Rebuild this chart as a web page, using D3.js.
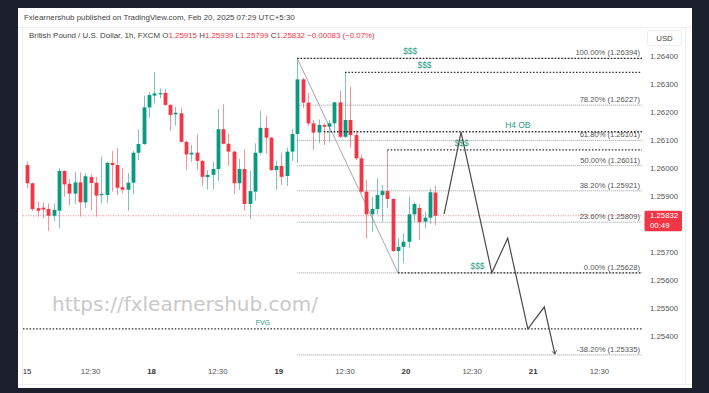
<!DOCTYPE html>
<meta charset="utf-8">
<style>
body { margin: 0; background: #1c202d; }
svg { display: block; font-family: "Liberation Sans", Arial, sans-serif; }
</style>
<body>
<script src="https://d3js.org/d3.v7.min.js"></script>
<script>

var width = 709,
    height = 393;

// hourly GBPUSD candles, [open, high, low, close]
var ohlc = [
  [1.26013,1.26025,1.25930,1.25948],[1.25948,1.25950,1.25849,1.25856],[1.25859,1.25882,1.25829,1.25850],
  [1.25861,1.25880,1.25823,1.25854],[1.25856,1.25876,1.25778,1.25832],[1.25832,1.25876,1.25811,1.25853],
  [1.25850,1.26001,1.25787,1.25992],[1.25992,1.25994,1.25900,1.25944],[1.25946,1.25963,1.25870,1.25911],
  [1.25911,1.25989,1.25873,1.25951],[1.25951,1.25987,1.25829,1.25880],[1.25880,1.25984,1.25859,1.25973],
  [1.25970,1.25980,1.25851,1.25949],[1.25950,1.25971,1.25829,1.25904],[1.25906,1.26043,1.25876,1.25910],
  [1.25906,1.26025,1.25876,1.26021],[1.26021,1.26063,1.25918,1.26013],[1.26013,1.26073,1.25906,1.25932],
  [1.25934,1.26001,1.25912,1.25925],[1.25925,1.25984,1.25850,1.25950],[1.25950,1.26063,1.25909,1.26057],
  [1.26057,1.26141,1.26031,1.26088],[1.26088,1.26261,1.26085,1.26219],[1.26219,1.26273,1.26182,1.26263],
  [1.26261,1.26346,1.26234,1.26269],[1.26267,1.26287,1.26251,1.26270],[1.26271,1.26284,1.26224,1.26228],
  [1.26228,1.26230,1.26136,1.26192],[1.26194,1.26221,1.26154,1.26200],[1.26198,1.26218,1.26094,1.26096],
  [1.26096,1.26099,1.25995,1.26051],[1.26051,1.26085,1.26025,1.26057],[1.26057,1.26123,1.25995,1.26028],
  [1.26028,1.26030,1.25938,1.25971],[1.25970,1.25995,1.25926,1.25978],[1.25978,1.26025,1.25926,1.25999],
  [1.25999,1.26213,1.25956,1.26141],[1.26141,1.26230,1.26087,1.26089],[1.26089,1.26125,1.26010,1.26061],
  [1.26061,1.26063,1.25909,1.25948],[1.25948,1.26035,1.25924,1.25999],[1.25999,1.26069,1.25851,1.25874],
  [1.25874,1.25992,1.25820,1.25920],[1.25918,1.26091,1.25886,1.26057],[1.26057,1.26206,1.26051,1.26146],
  [1.26146,1.26189,1.26054,1.26111],[1.26111,1.26113,1.25993,1.25995],[1.25995,1.26028,1.25924,1.26010],
  [1.26010,1.26057,1.25942,1.25971],[1.25974,1.26075,1.25938,1.26061],[1.26061,1.26142,1.26028,1.26124],
  [1.26124,1.26394,1.26021,1.26319],[1.26319,1.26325,1.26216,1.26236],[1.26236,1.26271,1.26152,1.26162],
  [1.26162,1.26174,1.26067,1.26129],[1.26129,1.26176,1.26091,1.26156],[1.26156,1.26162,1.26085,1.26150],
  [1.26150,1.26174,1.26096,1.26162],[1.26162,1.26239,1.26126,1.26237],[1.26237,1.26278,1.26109,1.26114],
  [1.26114,1.26344,1.26109,1.26174],[1.26174,1.26293,1.26075,1.26120],[1.26120,1.26135,1.26031,1.26037],
  [1.26037,1.26049,1.25912,1.25918],[1.25918,1.25960,1.25751,1.25837],[1.25837,1.25900,1.25775,1.25856],
  [1.25856,1.25966,1.25837,1.25906],[1.25906,1.25942,1.25811,1.25920],[1.25920,1.26067,1.25859,1.25892],
  [1.25892,1.25895,1.25703,1.25706],[1.25706,1.25751,1.25628,1.25721],[1.25721,1.25769,1.25662,1.25739],
  [1.25739,1.25900,1.25716,1.25837],[1.25837,1.25880,1.25811,1.25874],[1.25860,1.25873,1.25745,1.25809],
  [1.25811,1.25846,1.25787,1.25825],[1.25825,1.25930,1.25805,1.25916],[1.25915,1.25939,1.25799,1.25832]
];

// 1.25800 sits under the last-price tag, so it is not shown
var priceTicks = [1.264, 1.263, 1.262, 1.261, 1.260, 1.259, 1.257, 1.256, 1.255, 1.254];
var timeTickIdx = [-0.5, 12, 23.5, 36, 47.5, 60, 71.5, 84, 95.5, 108];
var timeTickLabels = ["15", "12:30", "18", "12:30", "19", "12:30", "20", "12:30", "21", "12:30"];

var fibRatios = [1, 0.782, 0.618, 0.5, 0.382, 0.236, 0, -0.382];
var fibPrices = [1.26394, 1.26227, 1.26101, 1.26011, 1.25921, 1.25809, 1.25628, 1.25335];
var fibHigh = [51, 1.26394],
    fibLow = [70, 1.25628];

// liquidity / zone lines drawn by hand
var liqPrices = [1.26394, 1.26344, 1.26132, 1.26067, 1.25628, 1.25428];
var liqStart = [51, 60, 56, 68, 70, -2];
var liqLabels = ["$$$", "$$$", "H4 OB", "$$$", "$$$", "FVG"];
var liqLabelAt = [72.3, 75, 92.6, 82, 85, 44.5];

var projection = [[78.7, 1.25838], [81.9, 1.26131], [87.7, 1.25628], [90.7, 1.25752],
                  [94.5, 1.25428], [97.6, 1.25506], [99.6, 1.25338]];

var lastPrice = 1.25832, lastTimer = "00:49";

var up = "#089981", down = "#f23645", teal = "#2a9d86";

var pane = {left: 23, right: 643, top: 28, bottom: 362};

var x = d3.scaleLinear().domain([0, 77]).range([27, 435.1]);
var y = d3.scaleLinear().domain([1.254, 1.264]).range([336.7, 56.7]);

var svg = d3.select("body").append("svg")
    .attr("width", width)
    .attr("height", height);

svg.append("rect").attr("width", width).attr("height", height).attr("fill", "#1c202d");
svg.append("rect")
    .attr("x", 18).attr("y", 8).attr("width", 674).attr("height", 380)
    .attr("fill", "#fff");

svg.append("defs").append("clipPath").attr("id", "pane")
  .append("rect")
    .attr("x", pane.left).attr("y", pane.top)
    .attr("width", pane.right - pane.left).attr("height", pane.bottom - pane.top);

// header
svg.append("text")
    .attr("x", 24).attr("y", 20)
    .attr("font-size", 7.9).attr("fill", "#444")
    .text("Fxlearnershub published on TradingView.com, Feb 20, 2025 07:29 UTC+5:30");

svg.append("line")
    .attr("x1", 18).attr("x2", 692).attr("y1", 27.5).attr("y2", 27.5)
    .attr("stroke", "#eceef2");

var legend = svg.append("text")
    .attr("x", 29).attr("y", 38)
    .attr("font-size", 7.9).attr("fill", "#444");
legend.append("tspan").text("British Pound / U.S. Dollar, 1h, FXCM  O");
legend.append("tspan").attr("fill", down).text(ohlc[77][0].toFixed(5));
legend.append("tspan").text(" H");
legend.append("tspan").attr("fill", down).text(ohlc[77][1].toFixed(5));
legend.append("tspan").text(" L");
legend.append("tspan").attr("fill", down).text(ohlc[77][2].toFixed(5));
legend.append("tspan").text(" C");
legend.append("tspan").attr("fill", down).text(ohlc[77][3].toFixed(5) + " \u22120.00083 (\u22120.07%)");

// axis frame
svg.append("line")
    .attr("x1", 685.5).attr("x2", 685.5).attr("y1", 28).attr("y2", 385)
    .attr("stroke", "#eceef2");
svg.append("line")
    .attr("x1", pane.left - 0.5).attr("x2", pane.left - 0.5).attr("y1", 28).attr("y2", 385)
    .attr("stroke", "#eceef2");
svg.append("line")
    .attr("x1", 18).attr("x2", 692).attr("y1", 384.5).attr("y2", 384.5)
    .attr("stroke", "#eceef2");

// price axis
svg.append("g").selectAll("text")
    .data(priceTicks)
    .enter().append("text")
    .attr("x", 650)
    .attr("y", function(d) { return y(d); })
    .attr("dy", "0.35em")
    .attr("font-size", 7.8)
    .attr("fill", "#555")
    .text(function(d) { return d.toFixed(5); });

svg.append("rect")
    .attr("x", 647.5).attr("y", 30.5).attr("width", 34).attr("height", 15).attr("rx", 2)
    .attr("fill", "#fff").attr("stroke", "#eceef2");
svg.append("text")
    .attr("x", 664.5).attr("y", 41)
    .attr("text-anchor", "middle").attr("font-size", 7.8).attr("fill", "#444")
    .text("USD");

// time axis
var isDay = function(i) { return timeTickLabels[i].indexOf(":") < 0; };
svg.append("g").selectAll("text")
    .data(timeTickIdx)
    .enter().append("text")
    .attr("x", function(d) { return Math.max(x(d), 27); })
    .attr("y", 374)
    .attr("text-anchor", "middle")
    .attr("font-size", 7.8)
    .attr("font-weight", function(d, i) { return isDay(i) && i > 0 ? "bold" : null; })
    .attr("fill", function(d, i) { return isDay(i) ? "#333" : "#555"; })
    .text(function(d, i) { return timeTickLabels[i]; });

var plot = svg.append("g").attr("clip-path", "url(#pane)");

// watermark
plot.append("text")
    .attr("x", 52).attr("y", 311)
    .attr("font-family", "DejaVu Sans, sans-serif")
    .attr("font-size", 20)
    .attr("fill", "#c9c9c9")
    .text("https://fxlearnershub.com/");

// last price line
plot.append("line")
    .attr("x1", pane.left).attr("x2", pane.right)
    .attr("y1", y(lastPrice)).attr("y2", y(lastPrice))
    .attr("stroke", down).attr("stroke-opacity", 0.6)
    .attr("stroke-dasharray", "1,1.5");

// fib levels
var fibRight = pane.right - 1;
plot.selectAll(".fib")
    .data(fibPrices)
    .enter().append("line")
    .attr("class", "fib")
    .attr("x1", x(fibHigh[0])).attr("x2", fibRight)
    .attr("y1", function(d) { return y(d); }).attr("y2", function(d) { return y(d); })
    .attr("stroke", "#9a9a9a")
    .attr("stroke-dasharray", "1,1");

plot.selectAll(".fibLabel")
    .data(fibPrices)
    .enter().append("text")
    .attr("class", "fibLabel")
    .attr("x", fibRight - 2)
    .attr("y", function(d) { return y(d) - 3; })
    .attr("text-anchor", "end")
    .attr("font-size", 7.6)
    .attr("fill", "#555")
    .text(function(d, i) { return (fibRatios[i] * 100).toFixed(2) + "% (" + d.toFixed(5) + ")"; });

plot.append("line")
    .attr("x1", x(fibHigh[0])).attr("y1", y(fibHigh[1]))
    .attr("x2", x(fibLow[0])).attr("y2", y(fibLow[1]))
    .attr("stroke", "#a8a8a8").attr("stroke-width", 1);

// candles
var candle = plot.selectAll(".candle")
    .data(ohlc)
    .enter().append("g")
    .attr("class", "candle");

candle.append("line")
    .attr("x1", function(d, i) { return Math.round(x(i)) + 0.5; })
    .attr("x2", function(d, i) { return Math.round(x(i)) + 0.5; })
    .attr("y1", function(d) { return y(d[1]); })
    .attr("y2", function(d) { return y(d[2]); })
    .attr("stroke", function(d) { return d[3] >= d[0] ? up : down; })
    .attr("stroke-opacity", 0.55);

candle.append("rect")
    .attr("x", function(d, i) { return Math.round(x(i)) + 0.5 - 1.9; })
    .attr("width", 3.8)
    .attr("y", function(d) { return y(Math.max(d[0], d[3])); })
    .attr("height", function(d) { return Math.max(1.2, Math.abs(y(d[0]) - y(d[3]))); })
    .attr("fill", function(d) { return d[3] >= d[0] ? up : down; });

// liquidity lines
plot.selectAll(".liq")
    .data(liqPrices)
    .enter().append("line")
    .attr("class", "liq")
    .attr("x1", function(d, i) { return x(liqStart[i]); })
    .attr("x2", fibRight)
    .attr("y1", function(d) { return y(d); }).attr("y2", function(d) { return y(d); })
    .attr("stroke", "#2a2a2a")
    .attr("stroke-width", 1.3)
    .attr("stroke-dasharray", "1.5,1.8");

plot.selectAll(".liqLabel")
    .data(liqPrices)
    .enter().append("text")
    .attr("class", "liqLabel")
    .attr("x", function(d, i) { return x(liqLabelAt[i]); })
    .attr("y", function(d) { return y(d) - 4; })
    .attr("text-anchor", "middle")
    .attr("font-size", function(d, i) { return liqLabels[i] === "FVG" ? 7 : 8.4; })
    .attr("fill", teal)
    .text(function(d, i) { return liqLabels[i]; });

// projected path
svg.append("defs").append("marker")
    .attr("id", "arrow")
    .attr("viewBox", "-6 -5 8 10")
    .attr("refX", 0).attr("refY", 0)
    .attr("markerWidth", 7).attr("markerHeight", 7)
    .attr("orient", "auto")
    .attr("markerUnits", "userSpaceOnUse")
  .append("path")
    .attr("d", "M-5,-3.5 L0,0 L-5,3.5")
    .attr("fill", "none")
    .attr("stroke", "#444")
    .attr("stroke-width", 1.1);

plot.append("path")
    .datum(projection)
    .attr("d", d3.line().x(function(d) { return x(d[0]); }).y(function(d) { return y(d[1]); }))
    .attr("fill", "none")
    .attr("stroke", "#4a4a4a")
    .attr("stroke-width", 1.2)
    .attr("marker-end", "url(#arrow)");

// last price tag
svg.append("rect")
    .attr("x", 644.5).attr("y", y(lastPrice) - 5).attr("width", 37.5).attr("height", 20.5).attr("rx", 1.5)
    .attr("fill", down);
svg.append("text")
    .attr("x", 650).attr("y", y(lastPrice)).attr("dy", "0.35em")
    .attr("font-size", 7.8).attr("fill", "#fff")
    .text(lastPrice.toFixed(5));
svg.append("text")
    .attr("x", 650).attr("y", y(lastPrice) + 10).attr("dy", "0.35em")
    .attr("font-size", 7.8).attr("fill", "#fff")
    .text(lastTimer);

</script>
